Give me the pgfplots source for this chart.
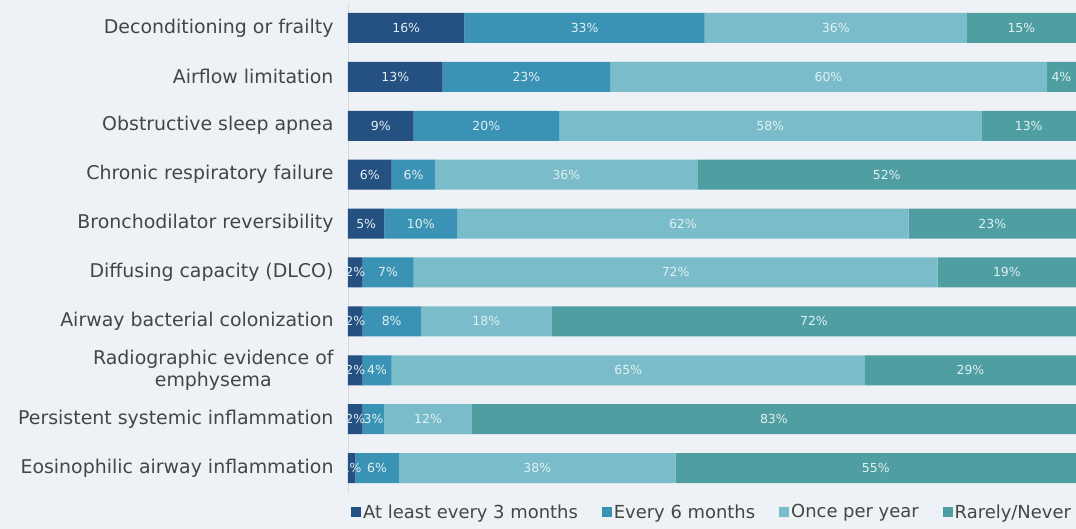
\documentclass[border=0pt]{standalone}
\usepackage{pgfplots}
\pgfplotsset{compat=1.18}
\usepackage{pgfplotstable}
\usepackage{fontspec}
\setmainfont{DejaVu Sans}

\definecolor{bgc}{HTML}{EEF1F5}
\definecolor{txt}{HTML}{454545}
\definecolor{lab}{HTML}{E2F1F3}
\definecolor{c1}{HTML}{255082}
\definecolor{c2}{HTML}{3A92B4}
\definecolor{c3}{HTML}{7ABCC9}
\definecolor{c4}{HTML}{4E9EA2}

% shares per reason, top to bottom
\pgfplotstableread{
idx a b c d
0 16 33 36 15
1 13 23 60 4
2 9 20 58 13
3 6 6 36 52
4 5 10 62 23
5 2 7 72 19
6 2 8 18 72
7 2 4 65 29
8 2 3 12 83
9 1 6 38 55
}\shares

\begin{document}
\begin{tikzpicture}
\fill[bgc] (-348bp,-36.5bp) rectangle (728bp,492.5bp);
\path[use as bounding box] (-348bp,-36.5bp) rectangle (728bp,492.5bp);
\begin{axis}[
  at={(0,0)}, anchor=south west,
  width=728bp, height=489bp, scale only axis,
  xbar stacked, bar width=30bp,
  xmin=0, xmax=100, ymin=-0.5, ymax=9.5, y dir=reverse,
  axis x line=none,
  axis y line*=left, y axis line style={draw=black!15, -},
  ytick={0,...,9}, ytick style={draw=none},
  yticklabels={Deconditioning or frailty, Airflow limitation, Obstructive sleep apnea,
    Chronic respiratory failure, Bronchodilator reversibility, Diffusing capacity (DLCO),
    Airway bacterial colonization, {Radiographic evidence of\\emphysema},
    Persistent systemic inflammation, Eosinophilic airway inflammation},
  yticklabel style={align=center, font=\fontsize{19}{23}\selectfont, text=txt, xshift=-11bp},
  point meta=rawx,
  nodes near coords={\pgfmathprintnumber[assume math mode=true]{\pgfplotspointmeta}\%},
  every node near coord/.append style={anchor=center, text=lab, inner sep=1bp,
    font=\fontsize{12.5}{14}\selectfont},
  legend style={at={(0.5,-0.04)}, anchor=center, draw=none, fill=none,
    legend columns=4, font=\fontsize{18}{20}\selectfont, text=txt,
    /tikz/every even column/.append style={column sep=22bp}},
  legend image code/.code={\fill[#1] (0bp,-5bp) rectangle (10bp,5bp);},
]
\addplot[fill=c1, draw=none] table[x=a, y=idx] {\shares};
\addplot[fill=c2, draw=none] table[x=b, y=idx] {\shares};
\addplot[fill=c3, draw=none] table[x=c, y=idx] {\shares};
\addplot[fill=c4, draw=none] table[x=d, y=idx] {\shares};
\legend{At least every 3 months, Every 6 months, Once per year, Rarely/Never}
\end{axis}
\end{tikzpicture}
\end{document}
